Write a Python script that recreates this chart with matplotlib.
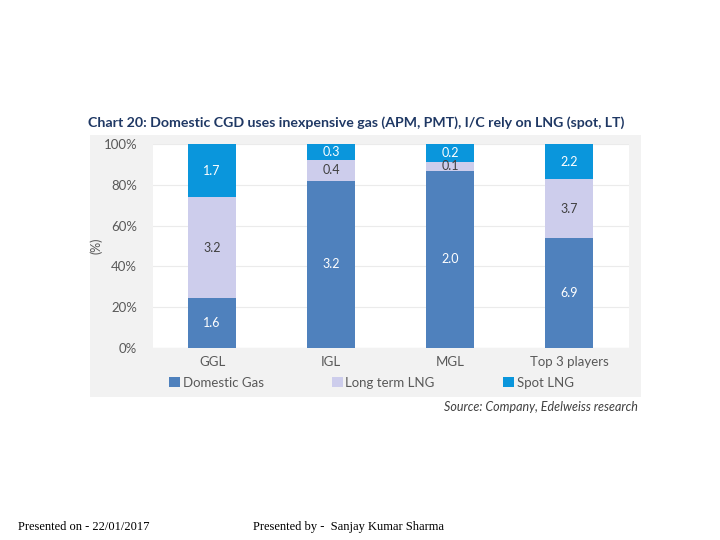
import numpy as np
import matplotlib
matplotlib.use("Agg")
import matplotlib.pyplot as plt
from matplotlib.patches import Rectangle

plt.rcParams['font.family'] = ['Lato', 'DejaVu Sans']

# data
companies = ['GGL', 'IGL', 'MGL', 'Top 3 players']
domestic_gas = [1.6, 3.2, 2.0, 6.9]
long_term_lng = [3.2, 0.4, 0.1, 3.7]
spot_lng = [1.7, 0.3, 0.2, 2.2]
series_names = ['Domestic Gas', 'Long term LNG', 'Spot LNG']

colors = ['#4F81BD', '#CDCDEC', '#0A96DC']
label_colors = ['white', '#404040', 'white']

fig = plt.figure(figsize=(7.2, 5.4), dpi=100)

# grey chart panel
fig.patches.append(Rectangle((90 / 720, 1 - 397 / 540), 551 / 720, 262 / 540,
                             transform=fig.transFigure, facecolor='#F2F2F2',
                             edgecolor='none', zorder=-1))

ax = fig.add_axes([152.5 / 720, 1 - 348 / 540, 476 / 720, 204 / 540])
ax.set_facecolor('white')

series = [domestic_gas, long_term_lng, spot_lng]
totals = np.sum(series, axis=0)
x = np.arange(len(companies))
bottom = np.zeros(len(companies))
for vals, name, c, lc in zip(series, series_names, colors, label_colors):
    pct = np.array(vals) / totals * 100
    ax.bar(x, pct, 0.41, bottom=bottom, color=c, label=name, zorder=3)
    for xi, b, p, v in zip(x, bottom, pct, vals):
        ax.text(xi, b + p / 2, f'{v:.1f}', ha='center', va='center',
                color=lc, fontsize=9, zorder=4)
    bottom += pct

ax.set_xlim(-0.5, 3.5)
ax.set_ylim(0, 100)
ax.set_yticks(range(0, 101, 20))
ax.set_yticklabels([f'{t}%' for t in range(0, 101, 20)])
ax.set_xticks(x)
ax.set_xticklabels(companies)
ax.tick_params(length=0, labelsize=9.5, colors='#595959')
ax.tick_params(axis='y', pad=11)
ax.tick_params(axis='x', pad=6)
ax.grid(axis='y', color='#EBEBEB', linewidth=0.8, zorder=0)
for s in ax.spines.values():
    s.set_visible(False)
ax.axhline(0, color='#E0E0E0', linewidth=0.8, zorder=2)
ax.set_ylabel('(%)', fontsize=9, color='#595959')
ax.yaxis.set_label_coords(-0.104, 0.5)

fig.legend(loc='center', bbox_to_anchor=(0.516, 1 - 383 / 540), ncol=3,
           frameon=False, fontsize=9.5, handlelength=0.8, handleheight=0.8,
           handletextpad=0.2, columnspacing=5.2, labelcolor='#595959')

fig.text(88 / 720, 1 - 123 / 540,
         'Chart 20: Domestic CGD uses inexpensive gas (APM, PMT), I/C rely on LNG (spot, LT)',
         fontsize=10.2, fontweight='bold', color='#1F3864', va='center')
fig.text(638 / 720, 1 - 407 / 540, 'Source: Company, Edelweiss research',
         fontsize=9, style='italic', color='#404040', ha='right', va='center')

fig.text(18 / 720, 1 - 527 / 540, 'Presented on - 22/01/2017',
         family='Liberation Serif', fontsize=9, va='center')
fig.text(253 / 720, 1 - 527 / 540, 'Presented by -  Sanjay Kumar Sharma',
         family='Liberation Serif', fontsize=9, va='center')

fig.savefig('out.png', dpi=100)
